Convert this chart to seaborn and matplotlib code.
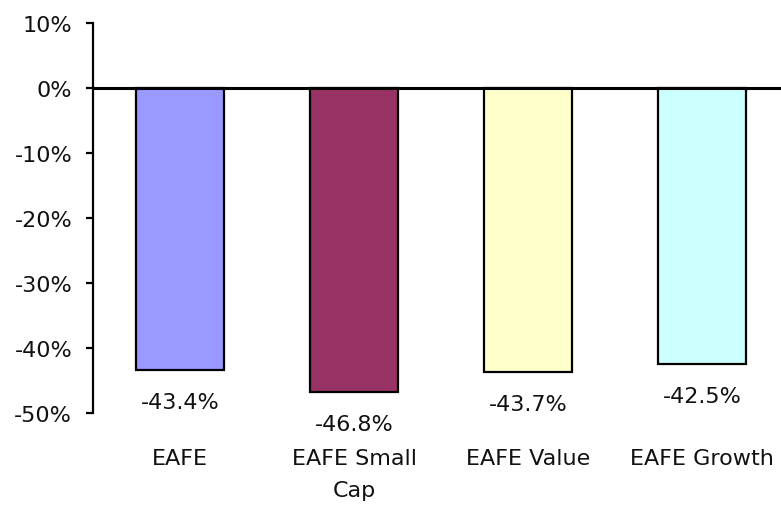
import pandas as pd
import seaborn as sns
import matplotlib.pyplot as plt
from matplotlib.ticker import FuncFormatter

categories = ['EAFE', 'EAFE Small\nCap', 'EAFE Value', 'EAFE Growth']
returns = [-43.4, -46.8, -43.7, -42.5]
bar_colors = ['#9999FF', '#993366', '#FFFFCC', '#CCFFFF']
y_ticks = [10, 0, -10, -20, -30, -40, -50]

df = pd.DataFrame({'Index': categories, 'Return': returns})

sns.set_theme(style="white")
plt.rcParams['font.family'] = ['DejaVu Sans']

fig = plt.figure(figsize=(7.81, 5.06), dpi=100)
ax = fig.add_axes([93 / 781, 1 - 414 / 506, 696 / 781, 390 / 506])

sns.barplot(data=df, x='Index', y='Return', hue='Index', palette=bar_colors,
            legend=False, width=0.506, edgecolor='black', linewidth=1.6,
            saturation=1, ax=ax)

ax.set_ylim(-50, 10)
ax.set_xlim(-0.5, 3.5)
ax.set_yticks(y_ticks)
ax.yaxis.set_major_formatter(FuncFormatter(lambda v, _: f'{v:.0f}%'))
ax.set_xticks(range(len(categories)), categories, linespacing=1.75)
ax.axhline(0, color='black', linewidth=2.2, zorder=5)

for s in ['top', 'right', 'bottom']:
    ax.spines[s].set_visible(False)
ax.spines['left'].set_color('black')
ax.spines['left'].set_linewidth(1.6)

ax.tick_params(axis='y', left=True, length=5, width=1.6, color='black',
               pad=10, labelsize=16, labelcolor='#111111')
ax.tick_params(axis='x', bottom=False, length=0, pad=25, labelsize=16,
               labelcolor='#111111')
ax.set_xlabel('')
ax.set_ylabel('')

for i, v in enumerate(returns):
    ax.annotate(f'{v:.1f}%', xy=(i, v), xytext=(0, -23), textcoords='offset points',
                ha='center', va='center', fontsize=16, color='#111111')

fig.savefig('out.png', dpi=100)
